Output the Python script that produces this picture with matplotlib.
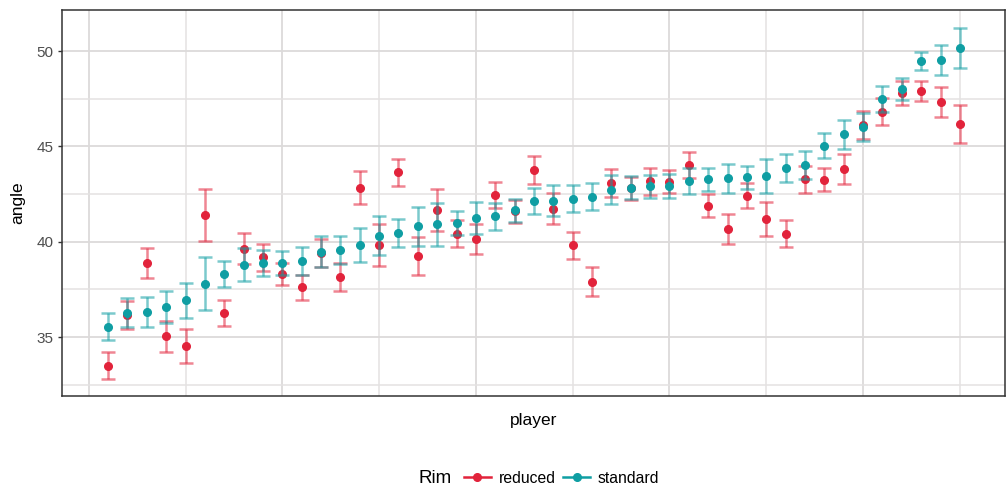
import numpy as np
import matplotlib
matplotlib.use("Agg")
import matplotlib.pyplot as plt
from matplotlib.lines import Line2D
from matplotlib.ticker import MultipleLocator

plt.rcParams['font.family'] = ['Liberation Sans', 'DejaVu Sans']

# players sorted by mean angle on the standard rim
player = np.arange(1, 46)

standard = [35.55, 36.27, 36.32, 36.58, 36.93, 37.80, 38.31, 38.80, 38.88, 38.88,
            39.00, 39.48, 39.55, 39.83, 40.31, 40.45, 40.80, 40.91, 40.98, 41.24,
            41.33, 41.64, 42.15, 42.16, 42.25, 42.37, 42.72, 42.84, 42.90, 42.93,
            43.19, 43.28, 43.33, 43.38, 43.46, 43.86, 44.03, 45.03, 45.65, 46.04,
            47.47, 48.01, 49.49, 49.53, 50.17]
standard_se = [0.70, 0.76, 0.78, 0.82, 0.91, 1.40, 0.66, 0.86, 0.69, 0.65,
               0.72, 0.82, 0.73, 0.88, 1.02, 0.74, 1.00, 1.12, 0.63, 0.82,
               0.70, 0.62, 0.68, 0.81, 0.71, 0.72, 0.76, 0.59, 0.60, 0.63,
               0.68, 0.60, 0.77, 0.61, 0.90, 0.72, 0.74, 0.65, 0.76, 0.73,
               0.68, 0.59, 0.49, 0.80, 1.05]

reduced = [33.50, 36.15, 38.88, 35.04, 34.55, 41.40, 36.27, 39.63, 39.18, 38.31,
           37.60, 39.40, 38.15, 42.84, 39.84, 43.64, 39.23, 41.68, 40.42, 40.14,
           42.46, 41.60, 43.77, 41.73, 39.81, 37.89, 43.07, 42.80, 43.17, 43.16,
           44.03, 41.88, 40.66, 42.42, 41.20, 40.42, 43.28, 43.25, 43.82, 46.13,
           46.82, 47.79, 47.90, 47.33, 46.18]
reduced_se = [0.71, 0.75, 0.78, 0.81, 0.89, 1.36, 0.68, 0.82, 0.70, 0.60,
              0.68, 0.75, 0.74, 0.85, 1.10, 0.70, 1.00, 1.11, 0.70, 0.80,
              0.70, 0.60, 0.72, 0.81, 0.71, 0.76, 0.74, 0.60, 0.70, 0.61,
              0.70, 0.60, 0.78, 0.67, 0.88, 0.72, 0.72, 0.60, 0.78, 0.72,
              0.71, 0.62, 0.52, 0.79, 1.02]

red = '#E2233B'
teal = '#0F9EA3'

fig = plt.figure(figsize=(10.08, 4.86), dpi=100)
ax = fig.add_axes([0.0615, 0.185, 0.9355, 0.794])

ax.errorbar(player, reduced, yerr=reduced_se, fmt='none', ecolor=red,
            elinewidth=1.8, capsize=5, capthick=1.8, alpha=0.55, zorder=3)
ax.plot(player, reduced, 'o', color=red, ms=5.5, zorder=4)
ax.errorbar(player, standard, yerr=standard_se, fmt='none', ecolor=teal,
            elinewidth=1.8, capsize=5, capthick=1.8, alpha=0.55, zorder=5)
ax.plot(player, standard, 'o', color=teal, ms=5.5, zorder=6)

ax.set_xlim(-1.38, 47.33)
ax.set_ylim(31.9, 52.15)
ax.xaxis.set_major_locator(MultipleLocator(10))
ax.xaxis.set_minor_locator(MultipleLocator(5))
ax.yaxis.set_major_locator(MultipleLocator(5))
ax.yaxis.set_minor_locator(MultipleLocator(2.5))
ax.grid(which='major', color='#DCDADA', lw=1.3)
ax.grid(which='minor', color='#E4E2E2', lw=1.1)
ax.set_axisbelow(True)

ax.tick_params(axis='x', which='both', length=0, labelbottom=False)
ax.tick_params(axis='y', which='major', length=3, width=1, color='#333333',
               labelsize=11, labelcolor='#4D4D4D', pad=3)
ax.tick_params(axis='y', which='minor', length=0)
for s in ax.spines.values():
    s.set_color('#333333')
    s.set_linewidth(1.1)

ax.set_xlabel('player', fontsize=12.5, labelpad=12)
ax.set_ylabel('angle', fontsize=12.5, labelpad=8)

fig.text(418 / 1008, 1 - 478 / 486, 'Rim', fontsize=13.5, ha='left', va='center')
handles = [Line2D([0], [0], color=red, lw=1.8, marker='o', ms=5.5),
           Line2D([0], [0], color=teal, lw=1.8, marker='o', ms=5.5)]
fig.legend(handles, ['reduced', 'standard'], loc='center left',
           bbox_to_anchor=(464 / 1008, 1 - 478 / 486), ncol=2, frameon=False,
           fontsize=11.3, handlelength=1.7, handletextpad=0.5, columnspacing=0.5,
           borderpad=0, borderaxespad=0)

fig.savefig('out.png', dpi=100)
